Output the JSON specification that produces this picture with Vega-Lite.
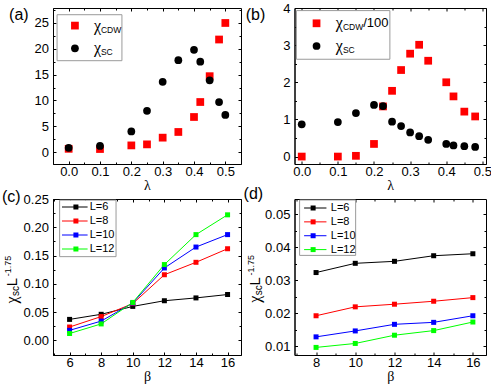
{
  "$schema": "https://vega.github.io/schema/vega-lite/v6.json",
  "padding": {"left": 1, "top": 1, "right": 1, "bottom": 0},
  "bounds": "flush",
  "columns": 2,
  "spacing": {"row": 35, "column": 53.5},
  "resolve": {"scale": {"color": "independent", "shape": "independent"}},
  "config": {
    "view": {"stroke": "#000000", "strokeWidth": 1},
    "axis": {"grid": false, "domainColor": "#000000", "tickColor": "#000000", "labelColor": "#000000", "labelFont": "Liberation Sans", "labelFontSize": 13, "tickSize": -3, "labelFlush": false, "labelOverlap": false, "titleFont": "Liberation Serif", "titleFontSize": 14, "titleFontWeight": "normal", "titleColor": "#000000", "titlePadding": 0},
    "axisX": {"labelPadding": 4.5},
    "axisY": {"labelPadding": 7.6},
    "text": {"font": "Liberation Sans", "color": "#000000"}
  },
  "datasets": {
    "a": [
      {"lambda": 0, "value": 0.64, "series": "CDW"},
      {"lambda": 0.1, "value": 0.6, "series": "CDW"},
      {"lambda": 0.2, "value": 1.3, "series": "CDW"},
      {"lambda": 0.25, "value": 1.5, "series": "CDW"},
      {"lambda": 0.3, "value": 2.8, "series": "CDW"},
      {"lambda": 0.35, "value": 3.9, "series": "CDW"},
      {"lambda": 0.4, "value": 6.8, "series": "CDW"},
      {"lambda": 0.42, "value": 9.7, "series": "CDW"},
      {"lambda": 0.45, "value": 14.7, "series": "CDW"},
      {"lambda": 0.48, "value": 21.8, "series": "CDW"},
      {"lambda": 0.5, "value": 25.0, "series": "CDW"},
      {"lambda": 0, "value": 0.84, "series": "SC"},
      {"lambda": 0.1, "value": 1.2, "series": "SC"},
      {"lambda": 0.2, "value": 4.0, "series": "SC"},
      {"lambda": 0.25, "value": 8.0, "series": "SC"},
      {"lambda": 0.3, "value": 13.6, "series": "SC"},
      {"lambda": 0.35, "value": 17.8, "series": "SC"},
      {"lambda": 0.4, "value": 19.8, "series": "SC"},
      {"lambda": 0.42, "value": 17.5, "series": "SC"},
      {"lambda": 0.45, "value": 13.9, "series": "SC"},
      {"lambda": 0.48, "value": 9.7, "series": "SC"},
      {"lambda": 0.5, "value": 7.2, "series": "SC"}
    ],
    "b": [
      {"lambda": 0, "value": 0.0, "series": "CDW"},
      {"lambda": 0.1, "value": 0.0, "series": "CDW"},
      {"lambda": 0.15, "value": 0.02, "series": "CDW"},
      {"lambda": 0.2, "value": 0.34, "series": "CDW"},
      {"lambda": 0.225, "value": 1.35, "series": "CDW"},
      {"lambda": 0.25, "value": 1.77, "series": "CDW"},
      {"lambda": 0.275, "value": 2.33, "series": "CDW"},
      {"lambda": 0.3, "value": 2.77, "series": "CDW"},
      {"lambda": 0.325, "value": 3.01, "series": "CDW"},
      {"lambda": 0.35, "value": 2.58, "series": "CDW"},
      {"lambda": 0.4, "value": 2.0, "series": "CDW"},
      {"lambda": 0.42, "value": 1.62, "series": "CDW"},
      {"lambda": 0.45, "value": 1.21, "series": "CDW"},
      {"lambda": 0.48, "value": 1.08, "series": "CDW"},
      {"lambda": 0, "value": 0.87, "series": "SC"},
      {"lambda": 0.1, "value": 0.93, "series": "SC"},
      {"lambda": 0.15, "value": 1.17, "series": "SC"},
      {"lambda": 0.2, "value": 1.39, "series": "SC"},
      {"lambda": 0.225, "value": 1.36, "series": "SC"},
      {"lambda": 0.25, "value": 0.94, "series": "SC"},
      {"lambda": 0.275, "value": 0.82, "series": "SC"},
      {"lambda": 0.3, "value": 0.65, "series": "SC"},
      {"lambda": 0.325, "value": 0.55, "series": "SC"},
      {"lambda": 0.35, "value": 0.45, "series": "SC"},
      {"lambda": 0.4, "value": 0.34, "series": "SC"},
      {"lambda": 0.42, "value": 0.30, "series": "SC"},
      {"lambda": 0.45, "value": 0.28, "series": "SC"},
      {"lambda": 0.48, "value": 0.26, "series": "SC"}
    ],
    "c": [
      {"beta": 6, "value": 0.037, "L": "L=6"},
      {"beta": 8, "value": 0.046, "L": "L=6"},
      {"beta": 10, "value": 0.060, "L": "L=6"},
      {"beta": 12, "value": 0.070, "L": "L=6"},
      {"beta": 14, "value": 0.075, "L": "L=6"},
      {"beta": 16, "value": 0.081, "L": "L=6"},
      {"beta": 6, "value": 0.0235, "L": "L=8"},
      {"beta": 8, "value": 0.042, "L": "L=8"},
      {"beta": 10, "value": 0.065, "L": "L=8"},
      {"beta": 12, "value": 0.116, "L": "L=8"},
      {"beta": 14, "value": 0.138, "L": "L=8"},
      {"beta": 16, "value": 0.162, "L": "L=8"},
      {"beta": 6, "value": 0.0176, "L": "L=10"},
      {"beta": 8, "value": 0.034, "L": "L=10"},
      {"beta": 10, "value": 0.066, "L": "L=10"},
      {"beta": 12, "value": 0.128, "L": "L=10"},
      {"beta": 14, "value": 0.165, "L": "L=10"},
      {"beta": 16, "value": 0.187, "L": "L=10"},
      {"beta": 6, "value": 0.012, "L": "L=12"},
      {"beta": 8, "value": 0.029, "L": "L=12"},
      {"beta": 10, "value": 0.067, "L": "L=12"},
      {"beta": 12, "value": 0.134, "L": "L=12"},
      {"beta": 14, "value": 0.187, "L": "L=12"},
      {"beta": 16, "value": 0.222, "L": "L=12"}
    ],
    "d": [
      {"beta": 8, "value": 0.0323, "L": "L=6"},
      {"beta": 10, "value": 0.0351, "L": "L=6"},
      {"beta": 12, "value": 0.0357, "L": "L=6"},
      {"beta": 14, "value": 0.0374, "L": "L=6"},
      {"beta": 16, "value": 0.0380, "L": "L=6"},
      {"beta": 8, "value": 0.0192, "L": "L=8"},
      {"beta": 10, "value": 0.0219, "L": "L=8"},
      {"beta": 12, "value": 0.0227, "L": "L=8"},
      {"beta": 14, "value": 0.0236, "L": "L=8"},
      {"beta": 16, "value": 0.0247, "L": "L=8"},
      {"beta": 8, "value": 0.0128, "L": "L=10"},
      {"beta": 10, "value": 0.0146, "L": "L=10"},
      {"beta": 12, "value": 0.0166, "L": "L=10"},
      {"beta": 14, "value": 0.0172, "L": "L=10"},
      {"beta": 16, "value": 0.0192, "L": "L=10"},
      {"beta": 8, "value": 0.0096, "L": "L=12"},
      {"beta": 10, "value": 0.0108, "L": "L=12"},
      {"beta": 12, "value": 0.0133, "L": "L=12"},
      {"beta": 14, "value": 0.0147, "L": "L=12"},
      {"beta": 16, "value": 0.0173, "L": "L=12"}
    ],
    "legS": [{"series": "CDW"}, {"series": "SC"}],
    "legCDW": [{"series": "CDW"}],
    "legL": [{"L": "L=6"}, {"L": "L=8"}, {"L": "L=10"}, {"L": "L=12"}],
    "one": [{}]
  },
  "concat": [
        {
          "width": 188, "height": 156,
          "resolve": {"scale": {"y": "independent"}, "axis": {"x": "independent", "y": "independent"}},
          "layer": [
            {"data": {"name": "one"},
             "mark": {"type": "rect", "fill": "#ffffff", "stroke": "#9a9a9a", "strokeWidth": 1},
             "encoding": {
               "x": {"datum": -0.037, "type": "quantitative", "scale": {"domain": [-0.05, 0.55], "nice": false, "zero": false}, "axis": {"orient": "bottom", "values": [0.05, 0.15, 0.25, 0.35, 0.45], "labels": false, "tickSize": -2, "domain": false, "title": null}},
               "x2": {"datum": 0.17},
               "y": {"datum": 17.7, "type": "quantitative", "scale": {"domain": [-2.3, 27.9], "nice": false, "zero": false}, "axis": {"orient": "left", "values": [2.5, 7.5, 12.5, 17.5, 22.5, 27.5], "labels": false, "tickSize": -2, "domain": false, "title": null}},
               "y2": {"datum": 26.6}
             }},
            {"data": {"name": "one"},
             "mark": {"type": "text", "text": ""},
             "encoding": {
               "x": {"datum": 0.2, "type": "quantitative", "scale": {"domain": [-0.05, 0.55], "nice": false, "zero": false}, "axis": {"orient": "top", "values": [0.05, 0.15, 0.25, 0.35, 0.45], "labels": false, "tickSize": -2, "domain": false, "title": null}},
               "y": {"datum": 10, "type": "quantitative", "scale": {"domain": [-2.3, 27.9], "nice": false, "zero": false}, "axis": {"orient": "right", "values": [2.5, 7.5, 12.5, 17.5, 22.5, 27.5], "labels": false, "tickSize": -2, "domain": false, "title": null}}
             }},
            {"data": {"name": "a"},
             "mark": {"type": "point", "filled": true, "opacity": 1, "size": 60},
             "encoding": {
               "x": {"field": "lambda", "type": "quantitative", "scale": {"domain": [-0.05, 0.55], "nice": false, "zero": false}, "axis": {"orient": "bottom", "values": [0, 0.1, 0.2, 0.3, 0.4, 0.5], "format": ".1f", "title": "λ"}},
               "y": {"field": "value", "type": "quantitative", "scale": {"domain": [-2.3, 27.9], "nice": false, "zero": false}, "axis": {"orient": "left", "values": [0, 5, 10, 15, 20, 25], "format": "d", "title": null}},
               "shape": {"field": "series", "type": "nominal", "scale": {"domain": ["CDW", "SC"], "range": ["square", "circle"]}, "legend": null},
               "color": {"field": "series", "type": "nominal", "scale": {"domain": ["CDW", "SC"], "range": ["#ff0000", "#000000"]}, "legend": null}
             }},
            {"data": {"name": "legS"},
             "mark": {"type": "point", "filled": true, "opacity": 1, "size": 60},
             "encoding": {
               "x": {"datum": 0.02, "type": "quantitative", "scale": {"domain": [-0.05, 0.55], "nice": false, "zero": false}, "axis": null},
               "y": {"field": "series", "type": "ordinal", "scale": {"type": "point", "domain": ["CDW", "SC"], "range": [17.6, 40.3], "padding": 0}, "axis": null},
               "shape": {"field": "series", "type": "nominal", "scale": {"domain": ["CDW", "SC"], "range": ["square", "circle"]}, "legend": null},
               "color": {"field": "series", "type": "nominal", "scale": {"domain": ["CDW", "SC"], "range": ["#ff0000", "#000000"]}, "legend": null}
             }},
            {"data": {"name": "legS"},
             "mark": {"type": "text", "text": "χ", "font": "Liberation Serif", "fontSize": 16, "align": "left", "baseline": "middle"},
             "encoding": {
               "x": {"datum": 0.081, "type": "quantitative", "scale": {"domain": [-0.05, 0.55], "nice": false, "zero": false}, "axis": null},
               "y": {"field": "series", "type": "ordinal", "scale": {"type": "point", "domain": ["CDW", "SC"], "range": [17.6, 40.3], "padding": 0}, "axis": null}
             }},
            {"data": {"name": "legS"},
             "mark": {"type": "text", "fontSize": 8.5, "align": "left", "baseline": "middle", "dy": 4},
             "encoding": {
               "x": {"datum": 0.103, "type": "quantitative", "scale": {"domain": [-0.05, 0.55], "nice": false, "zero": false}, "axis": null},
               "y": {"field": "series", "type": "ordinal", "scale": {"type": "point", "domain": ["CDW", "SC"], "range": [17.6, 40.3], "padding": 0}, "axis": null},
               "text": {"field": "series"}
             }},
            {"data": {"name": "one"},
             "mark": {"type": "text", "text": "(a)", "fontSize": 16, "align": "center", "baseline": "middle"},
             "encoding": {
               "x": {"datum": -0.159, "type": "quantitative", "scale": {"domain": [-0.05, 0.55], "nice": false, "zero": false}, "axis": {"orient": "top", "values": [0, 0.1, 0.2, 0.3, 0.4, 0.5], "labels": false, "domain": false, "title": null}},
               "y": {"datum": 26.5, "type": "quantitative", "scale": {"domain": [-2.3, 27.9], "nice": false, "zero": false}, "axis": {"orient": "right", "values": [0, 5, 10, 15, 20, 25], "labels": false, "domain": false, "title": null}}
             }}
          ]
        },
        {
          "width": 191.5, "height": 156,
          "resolve": {"scale": {"y": "independent"}, "axis": {"x": "independent", "y": "independent"}},
          "layer": [
            {"data": {"name": "one"},
             "mark": {"type": "rect", "fill": "#ffffff", "stroke": "#9a9a9a", "strokeWidth": 1},
             "encoding": {
               "x": {"datum": -0.0147, "type": "quantitative", "scale": {"domain": [-0.02, 0.51], "nice": false, "zero": false}, "axis": {"orient": "bottom", "values": [0.05, 0.15, 0.25, 0.35, 0.45], "labels": false, "tickSize": -2, "domain": false, "title": null}},
               "x2": {"datum": 0.244},
               "y": {"datum": 2.62, "type": "quantitative", "scale": {"domain": [-0.2, 4.0], "nice": false, "zero": false}, "axis": {"orient": "left", "values": [0.5, 1.5, 2.5, 3.5], "labels": false, "tickSize": -2, "domain": false, "title": null}},
               "y2": {"datum": 3.93}
             }},
            {"data": {"name": "one"},
             "mark": {"type": "text", "text": ""},
             "encoding": {
               "x": {"datum": 0.2, "type": "quantitative", "scale": {"domain": [-0.02, 0.51], "nice": false, "zero": false}, "axis": {"orient": "top", "values": [0.05, 0.15, 0.25, 0.35, 0.45], "labels": false, "tickSize": -2, "domain": false, "title": null}},
               "y": {"datum": 1, "type": "quantitative", "scale": {"domain": [-0.2, 4.0], "nice": false, "zero": false}, "axis": {"orient": "right", "values": [0.5, 1.5, 2.5, 3.5], "labels": false, "tickSize": -2, "domain": false, "title": null}}
             }},
            {"data": {"name": "b"},
             "mark": {"type": "point", "filled": true, "opacity": 1, "size": 60},
             "encoding": {
               "x": {"field": "lambda", "type": "quantitative", "scale": {"domain": [-0.02, 0.51], "nice": false, "zero": false}, "axis": {"orient": "bottom", "values": [0, 0.1, 0.2, 0.3, 0.4, 0.5], "format": ".1f", "title": "λ"}},
               "y": {"field": "value", "type": "quantitative", "scale": {"domain": [-0.2, 4.0], "nice": false, "zero": false}, "axis": {"orient": "left", "values": [0, 1, 2, 3, 4], "format": "d", "title": null}},
               "shape": {"field": "series", "type": "nominal", "scale": {"domain": ["CDW", "SC"], "range": ["square", "circle"]}, "legend": null},
               "color": {"field": "series", "type": "nominal", "scale": {"domain": ["CDW", "SC"], "range": ["#ff0000", "#000000"]}, "legend": null}
             }},
            {"data": {"name": "legS"},
             "mark": {"type": "point", "filled": true, "opacity": 1, "size": 60},
             "encoding": {
               "x": {"datum": 0.041, "type": "quantitative", "scale": {"domain": [-0.02, 0.51], "nice": false, "zero": false}, "axis": null},
               "y": {"field": "series", "type": "ordinal", "scale": {"type": "point", "domain": ["CDW", "SC"], "range": [15.3, 38], "padding": 0}, "axis": null},
               "shape": {"field": "series", "type": "nominal", "scale": {"domain": ["CDW", "SC"], "range": ["square", "circle"]}, "legend": null},
               "color": {"field": "series", "type": "nominal", "scale": {"domain": ["CDW", "SC"], "range": ["#ff0000", "#000000"]}, "legend": null}
             }},
            {"data": {"name": "legS"},
             "mark": {"type": "text", "text": "χ", "font": "Liberation Serif", "fontSize": 16, "align": "left", "baseline": "middle"},
             "encoding": {
               "x": {"datum": 0.094, "type": "quantitative", "scale": {"domain": [-0.02, 0.51], "nice": false, "zero": false}, "axis": null},
               "y": {"field": "series", "type": "ordinal", "scale": {"type": "point", "domain": ["CDW", "SC"], "range": [15.3, 38], "padding": 0}, "axis": null}
             }},
            {"data": {"name": "legS"},
             "mark": {"type": "text", "fontSize": 8.5, "align": "left", "baseline": "middle", "dy": 4},
             "encoding": {
               "x": {"datum": 0.114, "type": "quantitative", "scale": {"domain": [-0.02, 0.51], "nice": false, "zero": false}, "axis": null},
               "y": {"field": "series", "type": "ordinal", "scale": {"type": "point", "domain": ["CDW", "SC"], "range": [15.3, 38], "padding": 0}, "axis": null},
               "text": {"field": "series"}
             }},
            {"data": {"name": "legCDW"},
             "mark": {"type": "text", "text": "/100", "fontSize": 13, "align": "left", "baseline": "middle"},
             "encoding": {
               "x": {"datum": 0.17, "type": "quantitative", "scale": {"domain": [-0.02, 0.51], "nice": false, "zero": false}, "axis": null},
               "y": {"field": "series", "type": "ordinal", "scale": {"type": "point", "domain": ["CDW", "SC"], "range": [15.3, 38], "padding": 0}, "axis": null}
             }},
            {"data": {"name": "one"},
             "mark": {"type": "text", "text": "(b)", "fontSize": 16, "align": "center", "baseline": "middle"},
             "encoding": {
               "x": {"datum": -0.128, "type": "quantitative", "scale": {"domain": [-0.02, 0.51], "nice": false, "zero": false}, "axis": {"orient": "top", "values": [0, 0.1, 0.2, 0.3, 0.4, 0.5], "labels": false, "domain": false, "title": null}},
               "y": {"datum": 3.81, "type": "quantitative", "scale": {"domain": [-0.2, 4.0], "nice": false, "zero": false}, "axis": {"orient": "right", "values": [0, 1, 2, 3, 4], "labels": false, "domain": false, "title": null}}
             }}
          ]
        },
        {
          "width": 188, "height": 156,
          "resolve": {"scale": {"y": "independent"}, "axis": {"x": "independent", "y": "independent"}},
          "layer": [
            {"data": {"name": "one"},
             "mark": {"type": "rect", "fill": "#ffffff", "stroke": "#9a9a9a", "strokeWidth": 1},
             "encoding": {
               "x": {"datum": 5.37, "type": "quantitative", "scale": {"domain": [4.95, 16.85], "nice": false, "zero": false}, "axis": {"orient": "bottom", "values": [5, 7, 9, 11, 13, 15], "labels": false, "tickSize": -2, "domain": false, "title": null}},
               "x2": {"datum": 8.94},
               "y": {"datum": 0.148, "type": "quantitative", "scale": {"domain": [-0.026, 0.25], "nice": false, "zero": false}, "axis": {"orient": "left", "values": [0.025, 0.075, 0.125, 0.175, 0.225], "labels": false, "tickSize": -2, "domain": false, "title": null}},
               "y2": {"datum": 0.248}
             }},
            {"data": {"name": "c"},
             "mark": {"type": "line", "strokeWidth": 1},
             "encoding": {
               "x": {"field": "beta", "type": "quantitative", "scale": {"domain": [4.95, 16.85], "nice": false, "zero": false}, "axis": {"orient": "bottom", "values": [6, 8, 10, 12, 14, 16], "format": "d", "title": "β"}},
               "y": {"field": "value", "type": "quantitative", "scale": {"domain": [-0.026, 0.25], "nice": false, "zero": false}, "axis": {"orient": "left", "values": [0, 0.05, 0.1, 0.15, 0.2, 0.25], "format": ".2f", "title": null}},
               "color": {"field": "L", "type": "nominal", "scale": {"domain": ["L=6", "L=8", "L=10", "L=12"], "range": ["#000000", "#ff0000", "#0000ff", "#00ff00"]}, "legend": null}
             }},
            {"data": {"name": "c"},
             "mark": {"type": "point", "shape": "square", "filled": true, "opacity": 1, "size": 25},
             "encoding": {
               "x": {"field": "beta", "type": "quantitative", "scale": {"domain": [4.95, 16.85], "nice": false, "zero": false}, "axis": null},
               "y": {"field": "value", "type": "quantitative", "scale": {"domain": [-0.026, 0.25], "nice": false, "zero": false}, "axis": null},
               "color": {"field": "L", "type": "nominal", "scale": {"domain": ["L=6", "L=8", "L=10", "L=12"], "range": ["#000000", "#ff0000", "#0000ff", "#00ff00"]}, "legend": null}
             }},
            {"data": {"name": "legL"},
             "mark": {"type": "rule", "strokeWidth": 1},
             "encoding": {
               "x": {"datum": 5.52, "type": "quantitative", "scale": {"domain": [4.95, 16.85], "nice": false, "zero": false}, "axis": null},
               "x2": {"datum": 7.14},
               "y": {"field": "L", "type": "ordinal", "scale": {"type": "point", "domain": ["L=6", "L=8", "L=10", "L=12"], "range": [8, 50], "padding": 0}, "axis": null},
               "color": {"field": "L", "type": "nominal", "scale": {"domain": ["L=6", "L=8", "L=10", "L=12"], "range": ["#000000", "#ff0000", "#0000ff", "#00ff00"]}, "legend": null}
             }},
            {"data": {"name": "legL"},
             "mark": {"type": "point", "shape": "square", "filled": true, "opacity": 1, "size": 25},
             "encoding": {
               "x": {"datum": 6.4, "type": "quantitative", "scale": {"domain": [4.95, 16.85], "nice": false, "zero": false}, "axis": null},
               "y": {"field": "L", "type": "ordinal", "scale": {"type": "point", "domain": ["L=6", "L=8", "L=10", "L=12"], "range": [8, 50], "padding": 0}, "axis": null},
               "color": {"field": "L", "type": "nominal", "scale": {"domain": ["L=6", "L=8", "L=10", "L=12"], "range": ["#000000", "#ff0000", "#0000ff", "#00ff00"]}, "legend": null}
             }},
            {"data": {"name": "legL"},
             "mark": {"type": "text", "fontSize": 11, "align": "left", "baseline": "middle"},
             "encoding": {
               "x": {"datum": 7.27, "type": "quantitative", "scale": {"domain": [4.95, 16.85], "nice": false, "zero": false}, "axis": null},
               "y": {"field": "L", "type": "ordinal", "scale": {"type": "point", "domain": ["L=6", "L=8", "L=10", "L=12"], "range": [8, 50], "padding": 0}, "axis": null},
               "text": {"field": "L"}
             }},
            {"data": {"name": "one"},
             "mark": {"type": "text", "text": "χ", "font": "Liberation Serif", "fontSize": 16, "angle": 270, "align": "center", "baseline": "middle"},
             "encoding": {
               "x": {"datum": 2.37, "type": "quantitative", "scale": {"domain": [4.95, 16.85], "nice": false, "zero": false}, "axis": {"orient": "top", "values": [5, 7, 9, 11, 13, 15], "labels": false, "tickSize": -2, "domain": false, "title": null}},
               "y": {"datum": 0.0712, "type": "quantitative", "scale": {"domain": [-0.026, 0.25], "nice": false, "zero": false}, "axis": {"orient": "right", "values": [0.025, 0.075, 0.125, 0.175, 0.225], "labels": false, "tickSize": -2, "domain": false, "title": null}}
             }},
            {"data": {"name": "one"},
             "mark": {"type": "text", "text": "sc", "fontSize": 10, "angle": 270, "align": "center", "baseline": "middle"},
             "encoding": {
               "x": {"datum": 2.63, "type": "quantitative", "scale": {"domain": [4.95, 16.85], "nice": false, "zero": false}, "axis": null},
               "y": {"datum": 0.0872, "type": "quantitative", "scale": {"domain": [-0.026, 0.25], "nice": false, "zero": false}, "axis": null}
             }},
            {"data": {"name": "one"},
             "mark": {"type": "text", "text": "L", "fontSize": 15, "angle": 270, "align": "center", "baseline": "middle"},
             "encoding": {
               "x": {"datum": 2.37, "type": "quantitative", "scale": {"domain": [4.95, 16.85], "nice": false, "zero": false}, "axis": null},
               "y": {"datum": 0.1031, "type": "quantitative", "scale": {"domain": [-0.026, 0.25], "nice": false, "zero": false}, "axis": null}
             }},
            {"data": {"name": "one"},
             "mark": {"type": "text", "text": "-1.75", "fontSize": 9, "angle": 270, "align": "center", "baseline": "middle"},
             "encoding": {
               "x": {"datum": 2.12, "type": "quantitative", "scale": {"domain": [4.95, 16.85], "nice": false, "zero": false}, "axis": null},
               "y": {"datum": 0.1314, "type": "quantitative", "scale": {"domain": [-0.026, 0.25], "nice": false, "zero": false}, "axis": null}
             }},
            {"data": {"name": "one"},
             "mark": {"type": "text", "text": "(c)", "fontSize": 16, "align": "center", "baseline": "middle"},
             "encoding": {
               "x": {"datum": 2.31, "type": "quantitative", "scale": {"domain": [4.95, 16.85], "nice": false, "zero": false}, "axis": {"orient": "top", "values": [6, 8, 10, 12, 14, 16], "labels": false, "domain": false, "title": null}},
               "y": {"datum": 0.253, "type": "quantitative", "scale": {"domain": [-0.026, 0.25], "nice": false, "zero": false}, "axis": {"orient": "right", "values": [0, 0.05, 0.1, 0.15, 0.2, 0.25], "labels": false, "domain": false, "title": null}}
             }}
          ]
        },
        {
          "width": 191.5, "height": 156,
          "resolve": {"scale": {"y": "independent"}, "axis": {"x": "independent", "y": "independent"}},
          "layer": [
            {"data": {"name": "one"},
             "mark": {"type": "rect", "fill": "#ffffff", "stroke": "#9a9a9a", "strokeWidth": 1},
             "encoding": {
               "x": {"datum": 7.16, "type": "quantitative", "scale": {"domain": [6.9, 16.67], "nice": false, "zero": false}, "axis": {"orient": "bottom", "values": [7, 9, 11, 13, 15], "labels": false, "tickSize": -2, "domain": false, "title": null}},
               "x2": {"datum": 10.02},
               "y": {"datum": 0.0375, "type": "quantitative", "scale": {"domain": [0.0073, 0.0546], "nice": false, "zero": false}, "axis": {"orient": "left", "values": [0.015, 0.025, 0.035, 0.045], "labels": false, "tickSize": -2, "domain": false, "title": null}},
               "y2": {"datum": 0.0543}
             }},
            {"data": {"name": "d"},
             "mark": {"type": "line", "strokeWidth": 1},
             "encoding": {
               "x": {"field": "beta", "type": "quantitative", "scale": {"domain": [6.9, 16.67], "nice": false, "zero": false}, "axis": {"orient": "bottom", "values": [8, 10, 12, 14, 16], "format": "d", "title": "β"}},
               "y": {"field": "value", "type": "quantitative", "scale": {"domain": [0.0073, 0.0546], "nice": false, "zero": false}, "axis": {"orient": "left", "values": [0.01, 0.02, 0.03, 0.04, 0.05], "format": ".2f", "title": null}},
               "color": {"field": "L", "type": "nominal", "scale": {"domain": ["L=6", "L=8", "L=10", "L=12"], "range": ["#000000", "#ff0000", "#0000ff", "#00ff00"]}, "legend": null}
             }},
            {"data": {"name": "d"},
             "mark": {"type": "point", "shape": "square", "filled": true, "opacity": 1, "size": 25},
             "encoding": {
               "x": {"field": "beta", "type": "quantitative", "scale": {"domain": [6.9, 16.67], "nice": false, "zero": false}, "axis": null},
               "y": {"field": "value", "type": "quantitative", "scale": {"domain": [0.0073, 0.0546], "nice": false, "zero": false}, "axis": null},
               "color": {"field": "L", "type": "nominal", "scale": {"domain": ["L=6", "L=8", "L=10", "L=12"], "range": ["#000000", "#ff0000", "#0000ff", "#00ff00"]}, "legend": null}
             }},
            {"data": {"name": "legL"},
             "mark": {"type": "rule", "strokeWidth": 1},
             "encoding": {
               "x": {"datum": 7.39, "type": "quantitative", "scale": {"domain": [6.9, 16.67], "nice": false, "zero": false}, "axis": null},
               "x2": {"datum": 8.53},
               "y": {"field": "L", "type": "ordinal", "scale": {"type": "point", "domain": ["L=6", "L=8", "L=10", "L=12"], "range": [9, 50.6], "padding": 0}, "axis": null},
               "color": {"field": "L", "type": "nominal", "scale": {"domain": ["L=6", "L=8", "L=10", "L=12"], "range": ["#000000", "#ff0000", "#0000ff", "#00ff00"]}, "legend": null}
             }},
            {"data": {"name": "legL"},
             "mark": {"type": "point", "shape": "square", "filled": true, "opacity": 1, "size": 25},
             "encoding": {
               "x": {"datum": 7.85, "type": "quantitative", "scale": {"domain": [6.9, 16.67], "nice": false, "zero": false}, "axis": null},
               "y": {"field": "L", "type": "ordinal", "scale": {"type": "point", "domain": ["L=6", "L=8", "L=10", "L=12"], "range": [9, 50.6], "padding": 0}, "axis": null},
               "color": {"field": "L", "type": "nominal", "scale": {"domain": ["L=6", "L=8", "L=10", "L=12"], "range": ["#000000", "#ff0000", "#0000ff", "#00ff00"]}, "legend": null}
             }},
            {"data": {"name": "legL"},
             "mark": {"type": "text", "fontSize": 11, "align": "left", "baseline": "middle"},
             "encoding": {
               "x": {"datum": 8.75, "type": "quantitative", "scale": {"domain": [6.9, 16.67], "nice": false, "zero": false}, "axis": null},
               "y": {"field": "L", "type": "ordinal", "scale": {"type": "point", "domain": ["L=6", "L=8", "L=10", "L=12"], "range": [9, 50.6], "padding": 0}, "axis": null},
               "text": {"field": "L"}
             }},
            {"data": {"name": "one"},
             "mark": {"type": "text", "text": "χ", "font": "Liberation Serif", "fontSize": 16, "angle": 270, "align": "center", "baseline": "middle"},
             "encoding": {
               "x": {"datum": 4.905, "type": "quantitative", "scale": {"domain": [6.9, 16.67], "nice": false, "zero": false}, "axis": {"orient": "top", "values": [7, 9, 11, 13, 15], "labels": false, "tickSize": -2, "domain": false, "title": null}},
               "y": {"datum": 0.0242, "type": "quantitative", "scale": {"domain": [0.0073, 0.0546], "nice": false, "zero": false}, "axis": {"orient": "right", "values": [0.015, 0.025, 0.035, 0.045], "labels": false, "tickSize": -2, "domain": false, "title": null}}
             }},
            {"data": {"name": "one"},
             "mark": {"type": "text", "text": "sc", "fontSize": 10, "angle": 270, "align": "center", "baseline": "middle"},
             "encoding": {
               "x": {"datum": 5.11, "type": "quantitative", "scale": {"domain": [6.9, 16.67], "nice": false, "zero": false}, "axis": null},
               "y": {"datum": 0.0269, "type": "quantitative", "scale": {"domain": [0.0073, 0.0546], "nice": false, "zero": false}, "axis": null}
             }},
            {"data": {"name": "one"},
             "mark": {"type": "text", "text": "L", "fontSize": 15, "angle": 270, "align": "center", "baseline": "middle"},
             "encoding": {
               "x": {"datum": 4.905, "type": "quantitative", "scale": {"domain": [6.9, 16.67], "nice": false, "zero": false}, "axis": null},
               "y": {"datum": 0.0296, "type": "quantitative", "scale": {"domain": [0.0073, 0.0546], "nice": false, "zero": false}, "axis": null}
             }},
            {"data": {"name": "one"},
             "mark": {"type": "text", "text": "-1.75", "fontSize": 9, "angle": 270, "align": "center", "baseline": "middle"},
             "encoding": {
               "x": {"datum": 4.70, "type": "quantitative", "scale": {"domain": [6.9, 16.67], "nice": false, "zero": false}, "axis": null},
               "y": {"datum": 0.0345, "type": "quantitative", "scale": {"domain": [0.0073, 0.0546], "nice": false, "zero": false}, "axis": null}
             }},
            {"data": {"name": "one"},
             "mark": {"type": "text", "text": "(d)", "fontSize": 16, "align": "center", "baseline": "middle"},
             "encoding": {
               "x": {"datum": 4.80, "type": "quantitative", "scale": {"domain": [6.9, 16.67], "nice": false, "zero": false}, "axis": {"orient": "top", "values": [8, 10, 12, 14, 16], "labels": false, "domain": false, "title": null}},
               "y": {"datum": 0.056, "type": "quantitative", "scale": {"domain": [0.0073, 0.0546], "nice": false, "zero": false}, "axis": {"orient": "right", "values": [0.01, 0.02, 0.03, 0.04, 0.05], "labels": false, "domain": false, "title": null}}
             }}
          ]
        }
  ]
}
